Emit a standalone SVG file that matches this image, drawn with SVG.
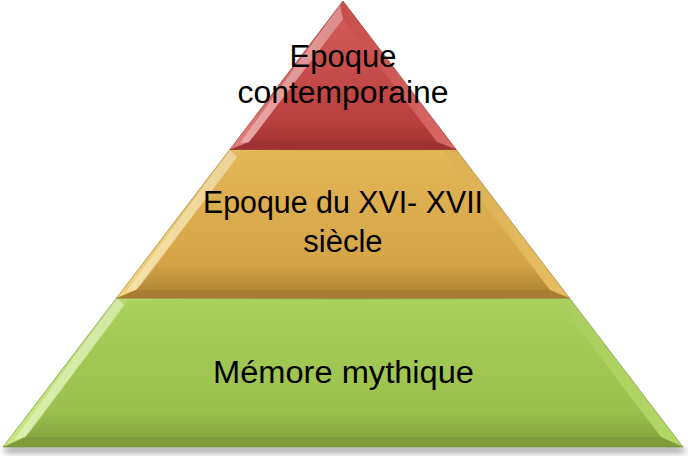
<svg xmlns="http://www.w3.org/2000/svg" width="688" height="457" viewBox="0 0 688 457">
  <defs>
    <linearGradient id="redMain" x1="0" y1="0" x2="0" y2="1">
      <stop offset="0" stop-color="#D25A57"/>
      <stop offset="0.85" stop-color="#B83F3D"/>
      <stop offset="1" stop-color="#A33333"/>
    </linearGradient>
    <linearGradient id="redRim" x1="0" y1="0" x2="1" y2="0">
      <stop offset="0" stop-color="#E0807C"/>
      <stop offset="0.5" stop-color="#C84E4B"/>
      <stop offset="1" stop-color="#D86A66"/>
    </linearGradient>
    <linearGradient id="goldMain" x1="0" y1="0" x2="0" y2="1">
      <stop offset="0" stop-color="#E3B656"/>
      <stop offset="0.8" stop-color="#D5A547"/>
      <stop offset="1" stop-color="#B48838"/>
    </linearGradient>
    <linearGradient id="goldRim" x1="0" y1="0" x2="1" y2="0">
      <stop offset="0" stop-color="#F2D47C"/>
      <stop offset="0.5" stop-color="#D4A447"/>
      <stop offset="1" stop-color="#E6BE62"/>
    </linearGradient>
    <linearGradient id="greenMain" x1="0" y1="0" x2="0" y2="1">
      <stop offset="0" stop-color="#A8D05A"/>
      <stop offset="0.8" stop-color="#9CC04E"/>
      <stop offset="1" stop-color="#86A742"/>
    </linearGradient>
    <linearGradient id="greenRim" x1="0" y1="0" x2="1" y2="0">
      <stop offset="0" stop-color="#C8E881"/>
      <stop offset="0.5" stop-color="#9BBE4E"/>
      <stop offset="1" stop-color="#B2D767"/>
    </linearGradient>
    <filter id="shadow" x="-10%" y="-10%" width="120%" height="140%">
      <feGaussianBlur stdDeviation="3"/>
    </filter>
    <style>
      .label { font-family: "Liberation Sans", Arial, sans-serif; font-size: 31px; fill: #000000; text-anchor: middle; }
      .edge { fill: none; stroke-width: 1; stroke-opacity: 0.6; }
      .spec { fill: #FFFFFF; opacity: 0.35; }
    </style>
  </defs>

  <!-- base shadow -->
  <polygon points="8,446 680,446 688,453 2,453" fill="#000000" opacity="0.35" filter="url(#shadow)"/>

  <g id="tier-bottom">
    <polygon points="116.5,298 569.5,298 683,447 3,447" fill="url(#greenRim)"/>
    <polygon points="129,300 557,300 661,437 25,437" fill="url(#greenMain)"/>
    <polygon points="25,437 3,447 683,447 661,437" fill="#7E9C3C"/>
    <polygon points="117,298 124,305 30,432 25,437 14,440" class="spec"/>
    <polygon points="116.5,298 569.5,298 683,447 3,447" class="edge" stroke="#6E8A33"/>
    <text class="label" x="343.5" y="383" textLength="261" lengthAdjust="spacingAndGlyphs">Mémore mythique</text>
  </g>

  <g id="tier-middle">
    <polygon points="229.8,149.5 456.2,149.5 569.5,298 116.5,298" fill="url(#goldRim)"/>
    <polygon points="242,151 444,151 550,290 136,290" fill="url(#goldMain)"/>
    <polygon points="136,290 116.5,298 569.5,298 550,290" fill="#A87D33"/>
    <polygon points="230,150 237,157 141,285 136,290 126,292" class="spec"/>
    <polygon points="229.8,149.5 456.2,149.5 569.5,298 116.5,298" class="edge" stroke="#9A7230"/>
    <text class="label" x="343" y="213" textLength="280" lengthAdjust="spacingAndGlyphs">Epoque du XVI- XVII</text>
    <text class="label" x="343" y="252">siècle</text>
  </g>

  <g id="tier-top">
    <polygon points="343,1 456.2,149.5 229.8,149.5" fill="url(#redRim)"/>
    <polygon points="343,19 437,142 249,142" fill="url(#redMain)"/>
    <polygon points="249,142 229.8,149.5 456.2,149.5 437,142" fill="#9E3131"/>
    <polygon points="340,5 343,19 254,136 249,142 240,143" class="spec"/>
    <polygon points="343,1 456.2,149.5 229.8,149.5" class="edge" stroke="#8C2B2A"/>
    <text class="label" x="343" y="67">Epoque</text>
    <text class="label" x="343" y="103" textLength="211" lengthAdjust="spacingAndGlyphs">contemporaine</text>
  </g>
</svg>
